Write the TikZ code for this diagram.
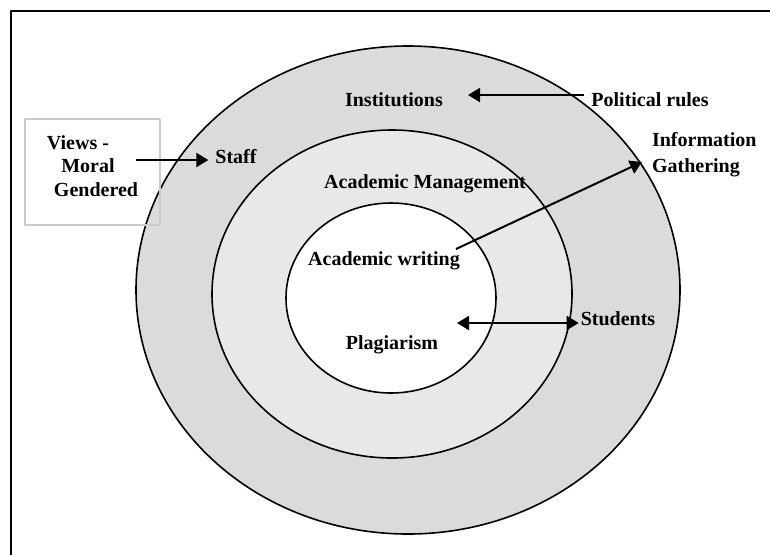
\documentclass[tikz,border=0pt]{standalone}
\usepackage{fontspec}
\setmainfont{Liberation Serif}
\usetikzlibrary{arrows.meta}
\begin{document}
\begin{tikzpicture}[x=0.5pt,y=-0.5pt,font=\bfseries\fontsize{10}{12}\selectfont,line join=round,
	>={Triangle[length=6pt,width=7pt]},
	arr/.style={->,line width=1pt},
	ring/.style={draw,line width=0.8pt}]
	\useasboundingbox (0,0) rectangle (770,554);
	\draw[line width=1.1pt] (11,560)--(11,11)--(775,11); % khung
	% ba vong
	\filldraw[ring,fill=black!14] (408,290) ellipse [x radius=272,y radius=244];
	\filldraw[ring,fill=black!9] (392,294) ellipse [x radius=180,y radius=164];
	\filldraw[ring,fill=white] (391,298) ellipse [x radius=105,y radius=95];
	\draw[black!20,line width=0.9pt] (25,119) rectangle (160,225); % hop Views
	\path 
	(394,100) node (inst) {Institutions}
	(650,100) node (polrules) {Political rules}
	(236,157) node (staff) {Staff}
	(88,166) node[align=center,font=\bfseries\fontsize{10}{11.75}\selectfont] (views) {Views -\hspace*{10pt}\\Moral\\\hspace*{8pt}Gendered}
	(425,184) node (acmgmt) {Academic Management}
	(384,261) node (acwrit) {Academic writing}
	(645,155) node[anchor=west,align=left,font=\bfseries\fontsize{10}{13}\selectfont] (info) {Information\\Gathering}
	(618,319) node (students) {Students}
	(392,345) node (plag) {Plagiarism};
	\coordinate (insttip) at (468,95);
	\coordinate (viewstail) at (136,160);
	\coordinate (writtail) at (456,249);
	\coordinate (infotip) at (642,162);
	\coordinate (plagtip) at (457,323);
	\draw[arr] ([yshift=2.5pt]polrules.west)--(insttip);
	\draw[arr] (viewstail)--([yshift=-1.5pt]staff.west);
	\draw[arr] (writtail)--(infotip);
	\draw[arr,<->] (plagtip)--([xshift=2.5pt,yshift=-2pt]students.west);
\end{tikzpicture}
\end{document}
